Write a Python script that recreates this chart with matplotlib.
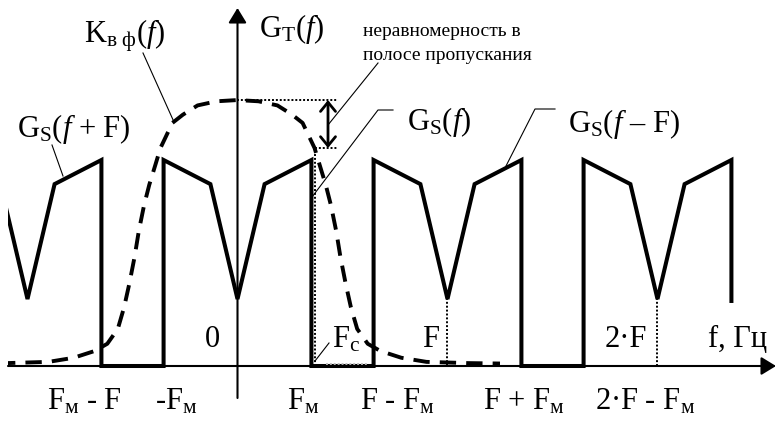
import matplotlib
matplotlib.use('Agg')
import matplotlib.pyplot as plt
import numpy as np

plt.rcParams['font.family'] = ['Liberation Serif', 'DejaVu Serif']
plt.rcParams['mathtext.fontset'] = 'custom'
plt.rcParams['mathtext.rm'] = 'Liberation Serif'
plt.rcParams['mathtext.it'] = 'Liberation Serif:italic'

# frequencies in units of the sampling rate F
FM = 0.352          # upper frequency of the signal
Fc = 0.367          # filter cut-off
knee = 0.129
copies = [-1, 0, 1, 2]

# one copy of the signal spectrum G_S(f)
shape_f = [-FM, -knee, 0.0, knee, FM]
shape_g = [1.0, 0.883, 0.325, 0.883, 1.0]
last_cut = 0.306     # the copy at 2F is drawn only down to here

# anti-aliasing filter K(f), right half (mirrored for f < 0)
filt_f = [0.0, 0.10, 0.19, 0.26, 0.31, 0.367, 0.39, 0.42, 0.445, 0.47, 0.49,
          0.515, 0.54, 0.57, 0.62, 0.68, 0.78, 0.90, 1.10, 1.25]
filt_k = [1.291, 1.285, 1.265, 1.22, 1.18, 1.058, 0.98, 0.88, 0.78, 0.655, 0.53,
          0.40, 0.285, 0.18, 0.108, 0.073, 0.04, 0.02, 0.014, 0.012]
k_peak = filt_k[0]
k_edge = filt_k[5]

bottom_labels = ['F$_\\mathrm{м}$ - F', '-F$_\\mathrm{м}$', 'F$_\\mathrm{м}$',
                 'F - F$_\\mathrm{м}$', 'F + F$_\\mathrm{м}$', '2·F - F$_\\mathrm{м}$']
bottom_left = [47, 155, 287, 360, 483, 595]

# layout helper: pixel position -> data coords
X0, SX = 237.5, 210.0
Y0, SY = 366.0, 206.0


def P(px, py):
    return ((px - X0) / SX, (Y0 - py) / SY)


fig = plt.figure(figsize=(7.77, 4.25), dpi=100)
ax = fig.add_axes([8 / 777, 0, 769 / 777, 1])
ax.set_xlim(P(8, 0)[0], P(777, 0)[0])
ax.set_ylim(P(0, 425)[1], P(0, 0)[1])
ax.axis('off')

# axes with arrows
ax.annotate('', xy=(P(776, 0)[0], 0), xytext=(P(8, 0)[0], 0),
            arrowprops=dict(arrowstyle='-|>,head_length=0.9,head_width=0.55',
                            lw=1.5, color='k', mutation_scale=10,
                            shrinkA=0, shrinkB=0))
ax.annotate('', xy=(0, P(0, 8)[1]), xytext=(0, P(0, 398)[1]),
            arrowprops=dict(arrowstyle='-|>,head_length=0.9,head_width=0.55',
                            lw=1.5, color='k', mutation_scale=10,
                            shrinkA=0, shrinkB=0))

# spectrum copies G_S(f - kF), joined by the zero level between them
xs, ys = [], []
for c in copies:
    xs += [c - FM] + [c + s for s in shape_f] + [c + FM]
    ys += [0.0] + shape_g + [0.0]
ys[-1] = last_cut
ax.plot(xs, ys, color='k', lw=2.9, solid_joinstyle='miter', solid_capstyle='butt')

# filter response
ff = np.concatenate([-np.array(filt_f[::-1]), np.array(filt_f[1:])])
kk = np.concatenate([np.array(filt_k[::-1]), np.array(filt_k[1:])])
ax.plot(ff, kk, color='k', lw=2.8, ls=(0, (4.2, 2.6)))

# dotted guides
dot = dict(color='k', lw=1.4, ls=(0, (1, 1)))
ax.plot([0, P(338, 0)[0]], [k_peak, k_peak], **dot)
ax.plot([Fc, P(338, 0)[0]], [k_edge, k_edge], **dot)
ax.plot([Fc, Fc], [0, k_edge], **dot)
ax.plot([1, 1], [0, shape_g[2]], **dot)
ax.plot([2, 2], [0, shape_g[2]], **dot)
ax.plot([P(326, 0)[0], P(368, 0)[0]], [0.01, 0.01], color='#bbbbbb', lw=1.4, ls=(0, (1, 1)))

# passband ripple arrow
ax.annotate('', xy=(P(328, 0)[0], k_edge), xytext=(P(328, 0)[0], k_peak),
            arrowprops=dict(arrowstyle='<->,head_length=0.55,head_width=0.45',
                            lw=2.0, color='k', mutation_scale=12,
                            shrinkA=0, shrinkB=0))

# leader lines
lead = dict(color='k', lw=0.8)
for pts in [[(143, 53), (174, 122)],
            [(52, 145), (63, 176)],
            [(378, 63), (328, 125)],
            [(393, 110), (378, 110), (312, 197)],
            [(555, 109), (535, 109), (506, 166)],
            [(329, 343), (315, 361)]]:
    q = [P(*p) for p in pts]
    ax.plot([a for a, b in q], [b for a, b in q], **lead)

big = 22
ax.text(*P(84, 42), r'K$_\mathrm{в\ ф}$($f$)', fontsize=big, va='baseline')
ax.text(*P(259, 37), r'G$_\mathrm{T}$($f$)', fontsize=big, va='baseline')
ax.text(*P(407, 130), r'G$_\mathrm{S}$($f$)', fontsize=big, va='baseline')
ax.text(*P(568, 132), r'G$_\mathrm{S}$($f$ – F)', fontsize=big, va='baseline')
ax.text(*P(17, 137), r'G$_\mathrm{S}$($f$ + F)', fontsize=big, va='baseline')
ax.text(*P(363, 36), 'неравномерность в', fontsize=14, va='baseline')
ax.text(*P(363, 60), 'полосе пропускания', fontsize=14, va='baseline')

ax.text(*P(205, 347), '0', fontsize=big, va='baseline')
ax.text(*P(422, 347), 'F', fontsize=big, va='baseline')
ax.text(*P(332, 347), r'F$_\mathrm{c}$', fontsize=big, va='baseline')
ax.text(*P(605, 347), '2·F', fontsize=big, va='baseline')
ax.text(*P(708, 347), 'f, Гц', fontsize=big, va='baseline')
for lab, px in zip(bottom_labels, bottom_left):
    ax.text(*P(px, 410), lab, fontsize=big, va='baseline')

fig.savefig('out.png', dpi=100)
